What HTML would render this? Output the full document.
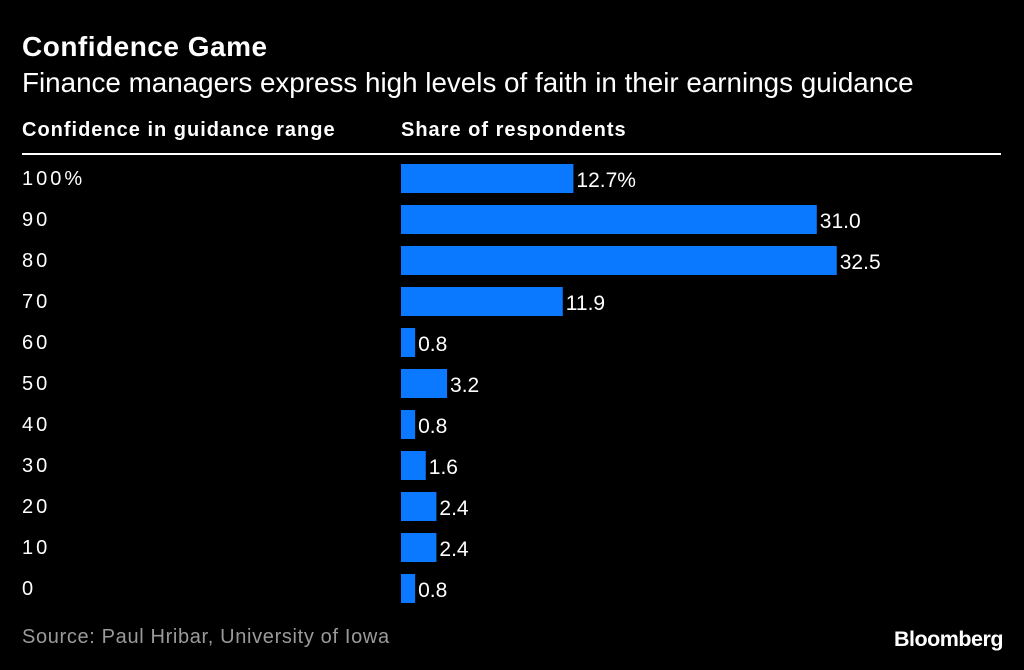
<!DOCTYPE html>
<html><head><meta charset="utf-8"><style>
body{margin:0;background:#000;width:1024px;height:670px;overflow:hidden;font-family:"Liberation Sans",sans-serif;color:#fff}
.t{position:absolute;white-space:nowrap}
</style></head><body>
<div class="t" style="left:22px;top:31px;font-size:28px;font-weight:bold;letter-spacing:0.5px">Confidence Game</div>
<div class="t" style="left:22px;top:67px;font-size:27.8px">Finance managers express high levels of faith in their earnings guidance</div>
<div class="t" style="left:22px;top:119px;font-size:20px;font-weight:bold;letter-spacing:1px">Confidence in guidance range</div>
<div class="t" style="left:401px;top:119px;font-size:20px;font-weight:bold;letter-spacing:1px">Share of respondents</div>
<div style="position:absolute;left:22px;top:153px;width:979px;height:2px;background:#fff"></div>
<svg id="c" width="1024" height="670" style="position:absolute;left:0;top:0"></svg>
<div class="t" style="left:22px;top:626px;font-size:20px;letter-spacing:0.65px;color:#9a9a9a">Source: Paul Hribar, University of Iowa</div>
<div class="t" style="right:21px;top:627px;font-size:21.5px;font-weight:bold;letter-spacing:-0.5px">Bloomberg</div>
<script>
const categories=["100%","90","80","70","60","50","40","30","20","10","0"];
const values=[12.7,31.0,32.5,11.9,0.8,3.2,0.8,1.6,2.4,2.4,0.8];
const valueLabels=["12.7%","31.0","32.5","11.9","0.8","3.2","0.8","1.6","2.4","2.4","0.8"];
const svg=document.getElementById('c');
const NS="http://www.w3.org/2000/svg";
function x(v){return 401+3.5+v*13.3;}
function y(i){return 164+i*41;}
categories.forEach((c,i)=>{
  const t=document.createElementNS(NS,'text');
  
  
  t.setAttribute('x',22);t.setAttribute('y',y(i)+21);
  t.setAttribute('fill','#fff');t.setAttribute('font-size','20');
  t.setAttribute('letter-spacing','3');
  t.setAttribute('font-family','Liberation Sans, sans-serif');
  t.textContent=c;svg.appendChild(t);
  const r=document.createElementNS(NS,'rect');
  
  
  r.setAttribute('x',401);r.setAttribute('y',y(i));
  r.setAttribute('width',x(values[i])-401);r.setAttribute('height',29);
  r.setAttribute('fill','#0a78ff');svg.appendChild(r);
  const l=document.createElementNS(NS,'text');
  
  
  l.setAttribute('x',x(values[i])+3);l.setAttribute('y',y(i)+23);
  l.setAttribute('fill','#fff');l.setAttribute('font-size','21');
  l.setAttribute('font-family','Liberation Sans, sans-serif');
  l.textContent=valueLabels[i];svg.appendChild(l);
});
</script>
</body></html>
